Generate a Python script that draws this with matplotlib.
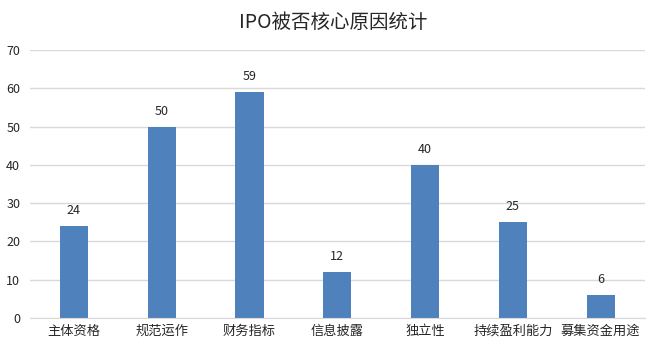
import matplotlib
matplotlib.use("Agg")
import matplotlib.pyplot as plt

plt.rcParams['font.family'] = ['Noto Sans CJK SC', 'DejaVu Sans']

categories = ["主体资格", "规范运作", "财务指标", "信息披露", "独立性", "持续盈利能力", "募集资金用途"]
values = [24, 50, 59, 12, 40, 25, 6]
yticks = [0, 10, 20, 30, 40, 50, 60, 70]

fig = plt.figure(figsize=(6.66, 3.52), dpi=100)
ax = fig.add_axes([0.045, 0.097, 0.923, 0.761])

x = list(range(len(categories)))
ax.bar(x, values, width=0.32, color="#4F81BD", zorder=3)
for xi, v in zip(x, values):
    ax.text(xi, v + 2.3, str(v), ha="center", va="bottom", fontsize=9, color="#262626")

ax.set_xlim(-0.5, len(categories) - 0.5)
ax.set_ylim(0, 70)
ax.set_yticks(yticks)
ax.set_xticks(x)
ax.set_xticklabels(categories, fontsize=9.5, color="#262626")
ax.tick_params(axis="y", labelsize=9, colors="#262626", length=0, pad=7)
ax.tick_params(axis="x", length=0, pad=5)
ax.grid(axis="y", color="#D9D9D9", linewidth=1, zorder=0)
for s in ["top", "right", "left"]:
    ax.spines[s].set_visible(False)
ax.spines["bottom"].set_color("#D9D9D9")
ax.spines["bottom"].set_zorder(4)

fig.suptitle("IPO被否核心原因统计", y=0.965, fontsize=14, color="#262626")

fig.savefig("out.png", dpi=100)
